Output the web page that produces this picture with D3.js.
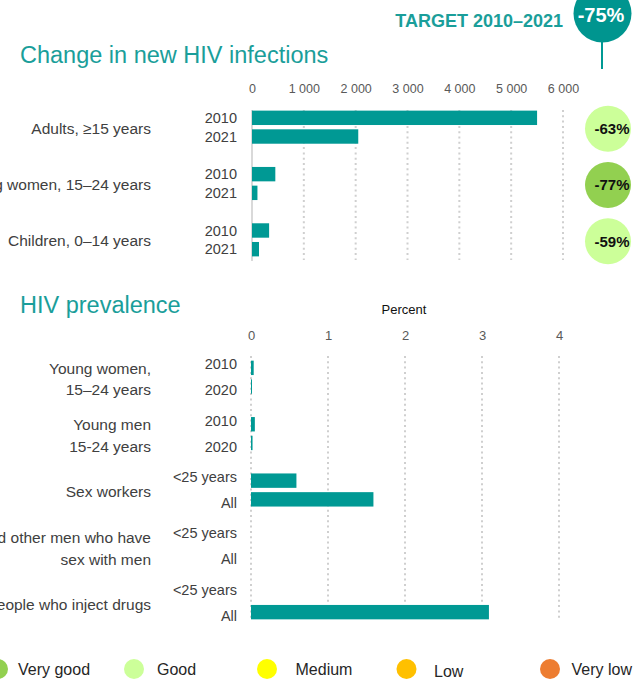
<!DOCTYPE html>
<html>
<head>
<meta charset="utf-8">
<script src="https://cdn.jsdelivr.net/npm/d3@7"></script>
<style>
  body { margin: 0; background: #fff; }
  svg { font-family: "Liberation Sans", Arial, sans-serif; display: block; }
</style>
</head>
<body>
<svg width="634" height="683"></svg>
<script>
var svg = d3.select('svg');

// new infections data
var inf_groups = ["Adults, ≥15 years", "Young women, 15–24 years", "Children, 0–14 years"];
var inf_years = ["2010", "2021"];
var inf_2010 = [5500, 450, 330];
var inf_2021 = [2050, 105, 135];
var inf_change = ["-63%", "-77%", "-59%"];
var inf_rating = ["Good", "Very good", "Good"];
var inf_ticks = [0, 1000, 2000, 3000, 4000, 5000, 6000];

// prevalence data (null = no data)
var prev_groups = [
  ["Young women,", "15–24 years"],
  ["Young men", "15-24 years"],
  ["Sex workers"],
  ["Gay men and other men who have", "sex with men"],
  ["People who inject drugs"]
];
var prev_sub = [
  ["2010", "2020"],
  ["2010", "2020"],
  ["<25 years", "All"],
  ["<25 years", "All"],
  ["<25 years", "All"]
];
var prev_first = [0.035, 0.05, 0.59, null, null];
var prev_second = [0.01, 0.02, 1.59, null, 3.09];
var prev_ticks = [0, 1, 2, 3, 4];

// legend
var legend_labels = ["Very good", "Good", "Medium", "Low", "Very low"];
var legend_colors = ["#92d050", "#ccff99", "#ffff00", "#ffc000", "#ed7d31"];

var teal = "#009994";
var title_teal = "#1a9e9a";
var label_color = "#404040";
var rating_color = {};
legend_labels.forEach(function(l, i) { rating_color[l] = legend_colors[i]; });

var fmt = d3.formatLocale({decimal: ".", thousands: " ", grouping: [3], currency: ["", ""]}).format(",");

//target bubble at the top
svg.append("text")
  .attr("x", 563)
  .attr("y", 27)
  .attr("text-anchor", "end")
  .attr("font-size", "18px")
  .attr("font-weight", "bold")
  .attr("fill", title_teal)
  .text("TARGET 2010–2021");

svg.append("line")
  .attr("x1", 602).attr("x2", 602)
  .attr("y1", 40).attr("y2", 69)
  .attr("stroke", teal)
  .attr("stroke-width", 2);

svg.append("circle")
  .attr("cx", 602.5)
  .attr("cy", 13.5)
  .attr("r", 29)
  .attr("fill", "#00958f");

svg.append("text")
  .attr("x", 601)
  .attr("y", 22)
  .attr("text-anchor", "middle")
  .attr("font-size", "20px")
  .attr("font-weight", "bold")
  .attr("fill", "#fff")
  .text("-75%");

// section titles
svg.append("text")
  .attr("x", 20).attr("y", 63)
  .attr("font-size", "23.5px")
  .attr("fill", title_teal)
  .text("Change in new HIV infections");

svg.append("text")
  .attr("x", 20).attr("y", 313)
  .attr("font-size", "23.5px")
  .attr("fill", title_teal)
  .text("HIV prevalence");

// inner band shared by both charts: two bars per group
function innerBand(keys, outer) {
  var c = outer.bandwidth() / 2;
  return d3.scaleBand()
    .domain(keys)
    .range([c - 18.7, c + 18.7])
    .paddingInner(0.23)
    .paddingOuter(0.115);
}

// dotted gridline look
function dotted(sel) {
  sel.attr("stroke", "#cfcfcf")
    .attr("stroke-width", 2)
    .attr("stroke-dasharray", "2,3.3");
}

// ---------- chart 1: new infections ----------
var x1 = d3.scaleLinear().domain([0, 6000]).range([252, 563]);
var y1 = d3.scaleBand().domain(inf_groups).range([99, 268]);
var y1_inner = innerBand(inf_years, y1);

var g1 = svg.append("g");

g1.selectAll(".grid1")
  .data(inf_ticks.slice(1))
  .enter()
  .append("line")
  .attr("x1", function(d) { return x1(d); })
  .attr("x2", function(d) { return x1(d); })
  .attr("y1", 110).attr("y2", 260)
  .call(dotted);

g1.append("line")
  .attr("x1", x1(0)).attr("x2", x1(0))
  .attr("y1", 110).attr("y2", 261)
  .attr("stroke", "#d9d9d9")
  .attr("stroke-width", 2);

var ax1 = g1.append("g")
  .attr("transform", "translate(0,92)")
  .call(d3.axisTop(x1).tickValues(inf_ticks).tickSize(0).tickFormat(fmt));
ax1.select(".domain").remove();
ax1.selectAll("text")
  .attr("font-family", "Liberation Sans, Arial, sans-serif")
  .attr("font-size", "12.5px")
  .attr("fill", "#595959")
  .attr("dy", "0.35em");

var inf_rows = inf_groups.map(function(g, i) {
  return {group: g, vals: [inf_2010[i], inf_2021[i]], change: inf_change[i], rating: inf_rating[i]};
});

var row1 = g1.selectAll(".row1")
  .data(inf_rows)
  .enter()
  .append("g")
  .attr("transform", function(d) { return "translate(0," + y1(d.group) + ")"; });

row1.append("text")
  .attr("x", 151)
  .attr("y", y1.bandwidth() / 2 + 1)
  .attr("dy", "0.35em")
  .attr("text-anchor", "end")
  .attr("font-size", "15.5px")
  .attr("fill", label_color)
  .text(function(d) { return d.group; });

row1.selectAll("rect")
  .data(function(d) { return d.vals.map(function(v, j) { return {key: inf_years[j], v: v}; }); })
  .enter()
  .append("rect")
  .attr("x", x1(0))
  .attr("y", function(d) { return y1_inner(d.key); })
  .attr("width", function(d) { return x1(d.v) - x1(0); })
  .attr("height", y1_inner.bandwidth())
  .attr("fill", teal);

row1.selectAll(".yr")
  .data(inf_years)
  .enter()
  .append("text")
  .attr("x", 237)
  .attr("y", function(d) { return y1_inner(d) + y1_inner.bandwidth() / 2; })
  .attr("dy", "0.35em")
  .attr("text-anchor", "end")
  .attr("font-size", "14.5px")
  .attr("fill", label_color)
  .text(function(d) { return d; });

row1.append("circle")
  .attr("cx", 608)
  .attr("cy", y1.bandwidth() / 2 + 1.5)
  .attr("r", 23)
  .attr("fill", function(d) { return rating_color[d.rating]; });

row1.append("text")
  .attr("x", 612)
  .attr("y", y1.bandwidth() / 2 + 1.5)
  .attr("dy", "0.35em")
  .attr("text-anchor", "middle")
  .attr("font-size", "15px")
  .attr("font-weight", "bold")
  .attr("fill", "#111")
  .text(function(d) { return d.change; });

// ---------- chart 2: prevalence ----------
var x2 = d3.scaleLinear().domain([0, 4]).range([251, 559]);
var prev_keys = prev_groups.map(function(d, i) { return "g" + i; });
var y2 = d3.scaleBand().domain(prev_keys).range([349, 631]);
var y2_inner = innerBand(["a", "b"], y2);

var g2 = svg.append("g");

g2.append("text")
  .attr("x", 404).attr("y", 314)
  .attr("text-anchor", "middle")
  .attr("font-size", "13px")
  .attr("fill", "#111")
  .text("Percent");

g2.selectAll(".grid2")
  .data(prev_ticks)
  .enter()
  .append("line")
  .attr("x1", function(d) { return x2(d); })
  .attr("x2", function(d) { return x2(d); })
  .attr("y1", 356).attr("y2", 620)
  .call(dotted);

var ax2 = g2.append("g")
  .attr("transform", "translate(0,338)")
  .call(d3.axisTop(x2).tickValues(prev_ticks).tickSize(0).tickFormat(d3.format("d")));
ax2.select(".domain").remove();
ax2.selectAll("text")
  .attr("font-family", "Liberation Sans, Arial, sans-serif")
  .attr("font-size", "13px")
  .attr("fill", "#595959")
  .attr("dy", "0.35em");

var prev_rows = prev_keys.map(function(k, i) {
  return {key: k, lines: prev_groups[i], sub: prev_sub[i], vals: [prev_first[i], prev_second[i]]};
});

var row2 = g2.selectAll(".row2")
  .data(prev_rows)
  .enter()
  .append("g")
  .attr("transform", function(d) { return "translate(0," + y2(d.key) + ")"; });

row2.each(function(d) {
  var t = d3.select(this).append("text")
    .attr("text-anchor", "end")
    .attr("font-size", "15.5px")
    .attr("fill", label_color);
  var n = d.lines.length;
  d.lines.forEach(function(line, j) {
    t.append("tspan")
      .attr("x", 151)
      .attr("y", y2.bandwidth() / 2 + 2 + (j - (n - 1) / 2) * 21.5)
      .attr("dy", "0.35em")
      .text(line);
  });
});

row2.selectAll("rect")
  .data(function(d) {
    return d.vals.map(function(v, j) { return {key: ["a", "b"][j], v: v}; })
      .filter(function(e) { return e.v != null; });
  })
  .enter()
  .append("rect")
  .attr("x", x2(0))
  .attr("y", function(d) { return y2_inner(d.key); })
  .attr("width", function(d) { return Math.max(1, x2(d.v) - x2(0)); })
  .attr("height", y2_inner.bandwidth())
  .attr("fill", teal);

row2.selectAll(".sub")
  .data(function(d) { return d.sub; })
  .enter()
  .append("text")
  .attr("x", 237)
  .attr("y", function(d, j) { return y2.bandwidth() / 2 + (j === 0 ? -13 : 13); })
  .attr("dy", "0.35em")
  .attr("text-anchor", "end")
  .attr("font-size", "14.5px")
  .attr("fill", label_color)
  .text(function(d) { return d; });

// ---------- legend ----------
var legend_cx = [-2, 134, 267, 406.5, 550];
var legend_tx = [18, 157, 295.5, 434, 571.5];

var leg = svg.selectAll(".legend")
  .data(legend_labels)
  .enter()
  .append("g");

leg.append("circle")
  .attr("cx", function(d, i) { return legend_cx[i]; })
  .attr("cy", 669)
  .attr("r", 10)
  .attr("fill", function(d, i) { return legend_colors[i]; });

leg.append("text")
  .attr("x", function(d, i) { return legend_tx[i]; })
  .attr("y", function(d) { return d === "Low" ? 677 : 675; })
  .attr("font-size", "16px")
  .attr("fill", "#262626")
  .text(function(d) { return d; });
</script>
</body>
</html>
